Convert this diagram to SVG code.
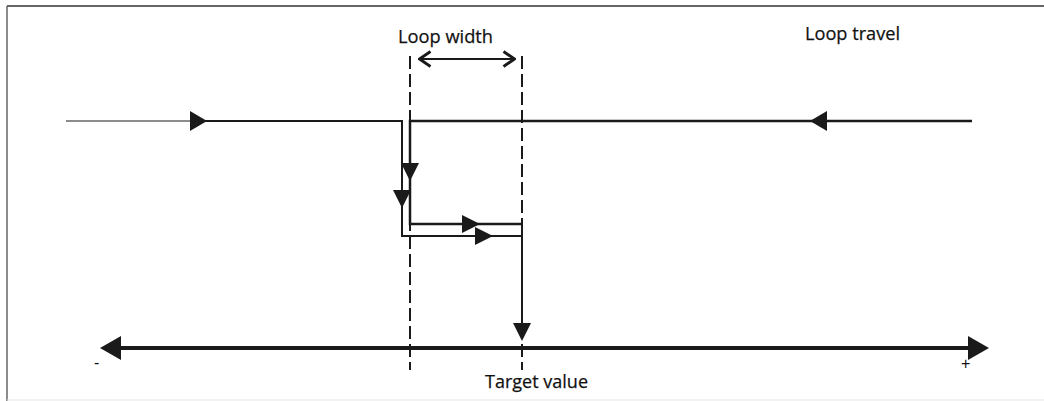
<svg xmlns="http://www.w3.org/2000/svg" width="1044" height="401" viewBox="0 0 1044 401">
  <style>
    .lbl { font-family: "Open Sans", "Liberation Sans", sans-serif; font-size: 19px; fill: #111111; stroke: #111111; stroke-width: 0.25; }
    .sign { font-family: "Liberation Sans", sans-serif; font-size: 16px; fill: #111111; }
    .path { fill: none; stroke: #1a1a1a; stroke-linejoin: miter; }
    .dash { fill: none; stroke: #1a1a1a; stroke-width: 2; stroke-dasharray: 13 5; }
    .head { fill: #1a1a1a; }
  </style>
  <defs>
    <marker id="chev" viewBox="0 0 14 18" refX="13" refY="9" markerWidth="14" markerHeight="18" markerUnits="userSpaceOnUse" orient="auto-start-reverse">
      <path d="M1.5 1.5 L12.5 9 L1.5 16.5" fill="none" stroke="#1a1a1a" stroke-width="2.8"/>
    </marker>
  </defs>
  <rect x="0" y="0" width="1044" height="401" fill="#ffffff"/>

  <!-- frame -->
  <g id="frame">
    <line x1="7" y1="6" x2="1044" y2="6" stroke="#333" stroke-width="1.5"/>
    <line x1="7" y1="6" x2="7" y2="401" stroke="#666" stroke-width="1.5"/>
    <line x1="7" y1="400" x2="1044" y2="400" stroke="#e6e6e6" stroke-width="1"/>
  </g>

  <!-- texts -->
  <g id="labels">
    <text class="lbl" x="398" y="43" textLength="95" lengthAdjust="spacingAndGlyphs">Loop width</text>
    <text class="lbl" x="805" y="40" textLength="95" lengthAdjust="spacingAndGlyphs">Loop travel</text>
    <text class="lbl" x="485" y="388" textLength="103" lengthAdjust="spacingAndGlyphs">Target value</text>
    <text class="sign" x="94" y="368">-</text>
    <text class="sign" x="961" y="369">+</text>
  </g>

  <g id="connectors">
    <!-- dashed boundaries of the loop -->
    <line class="dash" x1="410" y1="56" x2="410" y2="370"/>
    <line class="dash" x1="522" y1="56" x2="522" y2="370"/>

    <!-- loop width dimension -->
    <line x1="419" y1="59" x2="515" y2="59" stroke="#1a1a1a" stroke-width="2" marker-start="url(#chev)" marker-end="url(#chev)"/>

    <!-- path travelling upward (from minus side) -->
    <line class="path" x1="66" y1="121" x2="192" y2="121" stroke-width="1.2"/>
    <polyline class="path" points="190,121 402,121 402,236 522,236" stroke-width="2"/>
    <!-- path travelling downward (from plus side) -->
    <polyline class="path" points="972,121 410,121 410,224 522,224" stroke-width="2.5"/>
    <!-- common approach to the target -->
    <line class="path" x1="522" y1="224" x2="522" y2="330" stroke-width="2"/>

    <!-- target axis -->
    <line x1="110" y1="348" x2="975" y2="348" stroke="#1a1a1a" stroke-width="4"/>
  </g>

  <!-- arrowheads -->
  <g id="arrowheads">
    <polygon class="head" points="190,111 207,121 190,131"/>
    <polygon class="head" points="827,111 810,121 827,131"/>
    <polygon class="head" points="401,163 419,163 410,181"/>
    <polygon class="head" points="393,190 411,190 402,208"/>
    <polygon class="head" points="462,215 480,224 462,233"/>
    <polygon class="head" points="475,227 493,236 475,245"/>
    <polygon class="head" points="513,323 531,323 522,341"/>
    <polygon class="head" points="121,336 100,348 121,360"/>
    <polygon class="head" points="968,336 989,348 968,360"/>
  </g>
</svg>
